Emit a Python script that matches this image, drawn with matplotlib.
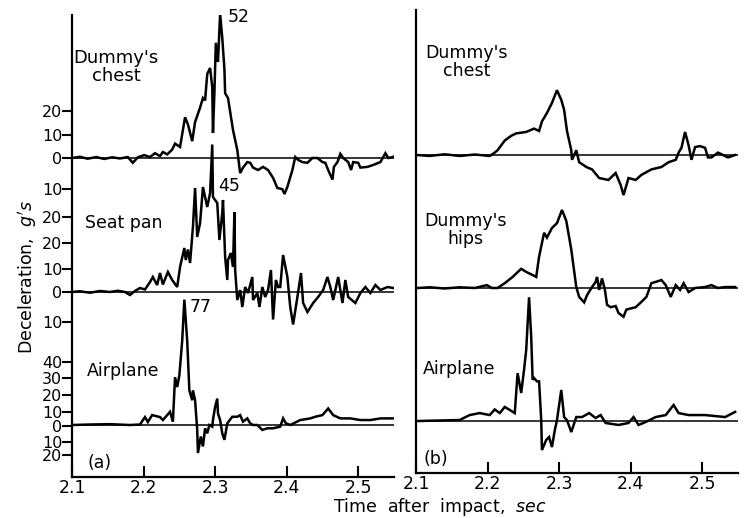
import matplotlib.pyplot as plt
import numpy as np

# ------------------------------------------------------------------ #
# traces: time after impact (s), deceleration (g) #
# ------------------------------------------------------------------ #

# (a) left panel
chest_a_t = [2.100, 2.111, 2.122, 2.134, 2.145, 2.156, 2.167, 2.178, 2.185, 2.192,
             2.201, 2.209, 2.216, 2.223, 2.227, 2.233, 2.240, 2.244, 2.251, 2.258,
             2.262, 2.268, 2.272, 2.279, 2.283, 2.286, 2.289, 2.293, 2.296, 2.297,
             2.299, 2.301, 2.304, 2.307, 2.310, 2.313, 2.314, 2.318, 2.325, 2.331,
             2.335, 2.339, 2.345, 2.349, 2.353, 2.360, 2.367, 2.374, 2.381, 2.387,
             2.394, 2.397, 2.401, 2.408, 2.412, 2.416, 2.422, 2.429, 2.436, 2.443,
             2.450, 2.454, 2.458, 2.464, 2.466, 2.471, 2.475, 2.479, 2.486, 2.490,
             2.493, 2.500, 2.503, 2.513, 2.521, 2.531, 2.538, 2.542, 2.549]
chest_a_g = [0, 0.5, -0.3, 0.4, -0.4, 0.3, -0.2, 0.4, -2.0, 0.3,
             1.2, 0.4, 2.0, 0.8, 2.5, 1.5, 3.5, 6.0, 4.6, 17,
             14, 7, 15, 21, 25, 24, 35, 37.5, 29.6, 10.4,
             27, 48, 40, 60, 50, 37, 27, 25, 11.7, 3.3,
             -6.3, -4, -1.7, -2, -4, -5, -3.7, -5, -8.3, -12.5,
             -13, -15, -12, -5, 0.4, -0.8, -1.7, -2, 0, 0,
             -1.7, -2, -5, -9, -3.7, -1.7, 1.7, 0, -1.7, -5,
             -1.7, -2, -4, -3.7, -2.9, -1.7, 2, 0, 0.5]

seat_a_t = [2.100, 2.111, 2.125, 2.139, 2.153, 2.164, 2.174, 2.181, 2.188, 2.195,
            2.202, 2.209, 2.213, 2.219, 2.223, 2.227, 2.234, 2.240, 2.247, 2.251,
            2.257, 2.259, 2.262, 2.265, 2.269, 2.272, 2.275, 2.279, 2.283, 2.289,
            2.293, 2.296, 2.297, 2.303, 2.306, 2.310, 2.311, 2.314, 2.317, 2.318,
            2.322, 2.325, 2.327, 2.328, 2.331, 2.335, 2.338, 2.342, 2.346, 2.352,
            2.353, 2.359, 2.362, 2.366, 2.370, 2.374, 2.378, 2.381, 2.385, 2.388,
            2.391, 2.395, 2.401, 2.405, 2.409, 2.415, 2.420, 2.423, 2.429, 2.437,
            2.444, 2.451, 2.457, 2.461, 2.465, 2.472, 2.478, 2.482, 2.486, 2.496,
            2.503, 2.510, 2.517, 2.524, 2.531, 2.541, 2.549]
seat_a_g = [0, 0.3, -0.3, 0.4, 0, 0.5, 0, -1.2, 0.4, 1.6,
            1.0, 4.0, 6.0, 2.8, 7.6, 3.0, 8.0, 4.8, 2.0, 10,
            17.6, 12.8, 17, 11.6, 26, 41.6, 22, 27.6, 42, 34,
            39.6, 59, 38, 35.6, 20.8, 31.6, 36.8, 14, 4.8, 12.8,
            15.6, 10, 32, 8.8, -3.2, 0.8, -6, 2, -0.4, 6,
            -3.2, -0.4, -6, 2, -2, 0.8, 8.8, -11, 4.8, 2,
            2, 14.8, 6, -6, -13, -2, 7.6, -4.4, -8, -4.4,
            -2, 0.8, 6, 2, -3.2, 6, -4.4, 4.8, -2, -4.4,
            -0.4, 2, -0.4, 2.8, 0.8, 2, 1.6]

plane_a_t = [2.100, 2.125, 2.153, 2.181, 2.195, 2.202, 2.206, 2.212, 2.223, 2.227,
             2.233, 2.237, 2.241, 2.244, 2.247, 2.250, 2.254, 2.257, 2.261, 2.264,
             2.268, 2.269, 2.272, 2.275, 2.276, 2.280, 2.283, 2.286, 2.289, 2.292,
             2.296, 2.297, 2.300, 2.303, 2.304, 2.307, 2.310, 2.313, 2.317, 2.324,
             2.331, 2.335, 2.339, 2.345, 2.349, 2.353, 2.359, 2.366, 2.373, 2.381,
             2.391, 2.395, 2.399, 2.405, 2.419, 2.433, 2.440, 2.450, 2.458, 2.465,
             2.475, 2.489, 2.503, 2.517, 2.531, 2.549]
plane_a_g = [0, 0.3, 0.5, 0, 0.3, 4.8, 1.8, 6.0, 4.8, 3.0,
             6.0, 8.0, 2.0, 29, 23, 30, 51, 76, 51, 21,
             15, 21, 15, -3, -17, -7, -13, -2, -5, 0,
             -1, 3, 11, 16, 7, 3, -5, -9, 1, 5,
             5, 6, 2, 4, 1, 0, 0, -3, -2, -2,
             -1, 4, 1, 0, 3, 4, 5, 6, 10, 6,
             4, 4, 3, 3, 4, 4]

# (b) right panel
chest_b_t = [2.101, 2.119, 2.140, 2.161, 2.182, 2.203, 2.210, 2.214, 2.224, 2.233,
             2.240, 2.254, 2.265, 2.272, 2.276, 2.283, 2.290, 2.297, 2.303, 2.307,
             2.311, 2.317, 2.318, 2.324, 2.328, 2.338, 2.346, 2.356, 2.369, 2.379,
             2.386, 2.390, 2.397, 2.407, 2.415, 2.429, 2.443, 2.453, 2.463, 2.467,
             2.471, 2.476, 2.481, 2.485, 2.490, 2.497, 2.504, 2.508, 2.513, 2.522,
             2.529, 2.536, 2.546]
chest_b_g = [0, -0.4, 0.3, -0.4, 0.2, -0.4, 1.0, 2, 6, 8,
             9, 9.6, 11, 10, 14, 17.5, 21.7, 27, 23, 18.8,
             10, 2, -2, 2, -3, -5, -6, -9.6, -10.4, -7.5,
             -12.5, -16.7, -9.6, -10.4, -8.3, -6, -5, -3, -2, 1,
             3, 9.6, 4, -2, 3.3, 3.7, 3, -1, -1, 1,
             0, -1, 0]

hips_b_t = [2.103, 2.119, 2.140, 2.161, 2.182, 2.199, 2.206, 2.214, 2.224, 2.235,
            2.247, 2.254, 2.263, 2.268, 2.272, 2.279, 2.283, 2.290, 2.297, 2.304,
            2.310, 2.317, 2.324, 2.328, 2.335, 2.339, 2.346, 2.351, 2.353, 2.356,
            2.360, 2.364, 2.367, 2.372, 2.379, 2.383, 2.390, 2.394, 2.407, 2.415,
            2.422, 2.429, 2.443, 2.449, 2.456, 2.463, 2.469, 2.474, 2.481, 2.490,
            2.504, 2.513, 2.522, 2.532, 2.546]
hips_b_g = [0, 0.3, -0.2, 0.3, 0, 1.2, 0, 0, 2, 4.6,
            8, 6.7, 5.4, 4.6, 13, 23, 21, 25, 27, 32.5,
            28, 16, 0.4, -3.7, -6, -3, 0.4, 2.5, 4.6, -0.8,
            4, -0.8, -7, -8, -7.5, -10.4, -12, -9, -8, -5.8,
            -3.7, 2, 3.3, 1.2, -3.7, 1.2, -0.8, 2, -1.7, 0,
            0.4, 1.2, 0, 0.4, 0.4]

plane_b_t = [2.103, 2.133, 2.161, 2.175, 2.189, 2.203, 2.210, 2.217, 2.224, 2.231,
             2.238, 2.242, 2.247, 2.251, 2.254, 2.258, 2.261, 2.263, 2.265, 2.269,
             2.272, 2.275, 2.276, 2.282, 2.286, 2.290, 2.294, 2.297, 2.303, 2.307,
             2.311, 2.317, 2.324, 2.332, 2.342, 2.351, 2.358, 2.365, 2.383, 2.397,
             2.404, 2.411, 2.421, 2.435, 2.449, 2.460, 2.467, 2.481, 2.504, 2.532,
             2.546]
plane_b_g = [0, 0.3, 0.6, 3.6, 4.8, 3.6, 7, 4.8, 8.5, 6.7,
             4.8, 29, 17, 31, 43, 75, 51, 25, 26, 24,
             24, 0.5, -17.6, -11.5, -9.7, -15.8, -5.5, 0.5, 18.8, 2.4,
             0.5, -6.7, 2.4, 2.4, 4.8, 1.8, 3.6, -1.2, -2.4, -1.2,
             2.4, -2.4, -0.6, 2.4, 3.6, 9.7, 4.8, 3.6, 3.6, 2.4,
             5.5]

time_ticks = [2.1, 2.2, 2.3, 2.4, 2.5]
time_labels = ["2.1", "2.2", "2.3", "2.4", "2.5"]
# the scale marks printed on the left axis, top to bottom
scale_labels = ["20", "10", "0", "10", "20", "20", "10", "0", "10",
                "40", "30", "20", "10", "0", "10", "20"]

# ------------------------------------------------ #
# layout: figure pixels, y measured down from top  #
# ------------------------------------------------ #
W, H = 747, 518
plt.rcParams["font.family"] = "DejaVu Sans"
plt.rcParams["mathtext.fontset"] = "dejavusans"
FS = 12.5


def fx(px):
    return px / W


def fy(row):
    return 1 - row / H


fig = plt.figure(figsize=(W / 100, H / 100), dpi=100, facecolor="white")
ax_a = fig.add_axes([fx(72), fy(477), fx(394) - fx(72), fy(15) - fy(477)])
ax_b = fig.add_axes([fx(416), fy(473), fx(738) - fx(416), fy(10) - fy(473)])
ax_a.set_ylim(477, 15)
ax_b.set_ylim(473, 10)

# each trace: data, zero-line row, pixels per g
traces_a = [
    (chest_a_t, chest_a_g, 158, 2.4),
    (seat_a_t, seat_a_g, 292, 2.5),
    (plane_a_t, plane_a_g, 425, 1.65),
]
traces_b = [
    (chest_b_t, chest_b_g, 155, 2.4),
    (hips_b_t, hips_b_g, 288, 2.4),
    (plane_b_t, plane_b_g, 421, 1.65),
]

for ax, traces in ((ax_a, traces_a), (ax_b, traces_b)):
    for t, g, base, gain in traces:
        ax.axhline(base, color="k", lw=1.1, zorder=1)
        ax.plot(t, base - gain * np.array(g), color="k", lw=1.8,
                solid_joinstyle="miter", zorder=2)
    ax.set_xlim(2.1, 2.55)
    for side in ("top", "right"):
        ax.spines[side].set_visible(False)
    for side in ("left", "bottom"):
        ax.spines[side].set_linewidth(1.6)
    ax.set_xticks(time_ticks)
    ax.set_xticklabels(time_labels, fontsize=FS)
    ax.tick_params(axis="x", direction="in", length=8, width=1.5, pad=1.5)

# left scale marks
scale_rows = [111, 135, 158, 189, 217, 243, 269, 292, 322,
              362, 378, 395, 412, 426, 442, 455]
ax_a.set_yticks(scale_rows)
ax_a.set_yticklabels(scale_labels, fontsize=11.5)
ax_a.tick_params(axis="y", direction="out", length=7, width=1.5, pad=0)
ax_b.set_yticks([])

# trace names
ax_a.text(2.162, 67, "Dummy's\nchest", fontsize=13, ha="center", va="center",
          linespacing=0.95)
ax_a.text(2.118, 223, "Seat pan", fontsize=FS, ha="left", va="center")
ax_a.text(2.121, 371, "Airplane", fontsize=FS, ha="left", va="center")
ax_a.text(2.122, 463, "(a)", fontsize=FS, ha="left", va="center")
ax_a.text(2.317, 17, "52", fontsize=FS, ha="left", va="center")
ax_a.text(2.304, 186, "45", fontsize=FS, ha="left", va="center")
ax_a.text(2.265, 307, "77", fontsize=FS, ha="left", va="center")

ax_b.text(2.171, 62, "Dummy's\nchest", fontsize=FS, ha="center", va="center",
          linespacing=1.0)
ax_b.text(2.169, 230, "Dummy's\nhips", fontsize=FS, ha="center", va="center",
          linespacing=1.0)
ax_b.text(2.110, 369, "Airplane", fontsize=FS, ha="left", va="center")
ax_b.text(2.110, 459, "(b)", fontsize=FS, ha="left", va="center")

# axis titles
fig.text(fx(28), fy(277), r"Deceleration,  $\mathit{g's}$", fontsize=FS,
         rotation=90, ha="center", va="center")
fig.text(fx(440), fy(507), r"Time  after  impact,  $\mathit{sec}$", fontsize=12.5,
         ha="center", va="center")

fig.savefig("out.png", dpi=100, facecolor="white")
